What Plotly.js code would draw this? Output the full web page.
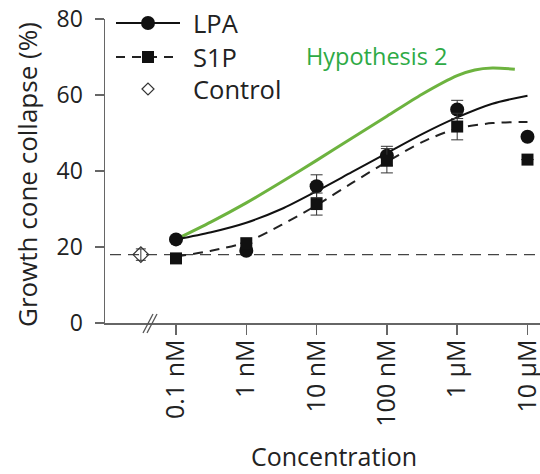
<!DOCTYPE html>
<html>
<head>
<meta charset="utf-8">
<script src="https://cdn.plot.ly/plotly-3.0.1.min.js"></script>
<style>html,body{margin:0;padding:0;background:#fff;}#chart{width:540px;height:474px;}</style>
</head>
<body>
<div id="chart"></div>
<script>
// ---- data (x = log10 of concentration in nM) ----
const concLabels = ['0.1 nM', '1 nM', '10 nM', '100 nM', '1 µM', '10 µM'];
const logConc = [-1, 0, 1, 2, 3, 4];

const lpaMean = [22, 19, 36, 44, 56.2, 49];
const lpaErr  = [0, 0, 3, 2.5, 2.4, 0];
const s1pMean = [17, 21, 31.3, 42.7, 51.7, 43];
const s1pErr  = [0, 0, 2.9, 3.2, 3.5, 0];

const controlX = [-1.5];
const controlMean = [18];
const controlErr = [1.5];

// fitted curves
const fitX = [-1, -0.5, 0, 0.5, 1, 1.5, 2, 2.5, 3, 3.5, 4];
const lpaFit = [22, 23.9, 26.4, 30.0, 34.7, 39.7, 44.7, 49.7, 54.1, 57.7, 59.8];
const s1pFit = [17.5, 19, 21.3, 25.8, 31, 36.8, 42.4, 47.6, 51.2, 52.6, 52.9];
const hypX = [-1, -0.5, 0, 0.5, 1, 1.5, 2, 2.5, 3, 3.25, 3.5, 3.82];
const hypFit = [22, 26.6, 31.6, 37.1, 42.8, 48.6, 54.4, 60.2, 65.1, 66.6, 67.1, 66.8];

const yTicks = [0, 20, 40, 60, 80];

const FONT = '"Open Sans", "Noto Sans", sans-serif';
const TXT = '#222';
const AX = '#666';
const GREEN_LINE = '#6db33f';
const GREEN_TXT = '#2eaa45';

const traces = [
  {x: hypX, y: hypFit, mode: 'lines', line: {color: GREEN_LINE, width: 3, shape: 'spline', smoothing: 0.8}, hoverinfo: 'skip'},
  {x: fitX, y: lpaFit, mode: 'lines', line: {color: '#111', width: 2, shape: 'spline', smoothing: 0.8}},
  {x: fitX, y: s1pFit, mode: 'lines', line: {color: '#222', width: 2, shape: 'spline', smoothing: 0.8, dash: '10px,7px'}},
  {x: controlX, y: controlMean, mode: 'markers',
   marker: {symbol: 'diamond-open', size: 12, color: '#333', line: {width: 1.2}},
   error_y: {type: 'data', array: controlErr, color: '#333', thickness: 1, width: 5}},
  {x: logConc, y: lpaMean, mode: 'markers',
   marker: {symbol: 'circle', size: 14, color: '#111'},
   error_y: {type: 'data', array: lpaErr, color: '#333', thickness: 1, width: 6}},
  {x: logConc, y: s1pMean, mode: 'markers',
   marker: {symbol: 'square', size: 12, color: '#111'},
   error_y: {type: 'data', array: s1pErr, color: '#333', thickness: 1, width: 6}}
];

// plot area in pixels: x 105..540, y 19..323
const L = 105, R = 540, T = 19, B = 323;
const px = v => (v - L) / (R - L);
const py = v => (B - v) / (B - T);

const shapes = [
  // control baseline
  {type: 'line', xref: 'paper', yref: 'y', x0: px(110), x1: 1, y0: controlMean[0], y1: controlMean[0],
   line: {color: '#444', width: 1.3, dash: '11px,7px'}, layer: 'below'},
  // axis break marks
  {type: 'line', xref: 'paper', yref: 'paper', x0: px(143), y0: py(333), x1: px(153), y1: py(314), line: {color: '#555', width: 1.3}},
  {type: 'line', xref: 'paper', yref: 'paper', x0: px(147), y0: py(333), x1: px(157), y1: py(314), line: {color: '#555', width: 1.3}},
  // legend samples
  {type: 'line', xref: 'paper', yref: 'paper', x0: px(116), x1: px(180), y0: py(23), y1: py(23), line: {color: '#111', width: 2}},
  {type: 'circle', xref: 'paper', yref: 'paper', xsizemode: 'pixel', ysizemode: 'pixel',
   xanchor: px(148), yanchor: py(23), x0: -7, x1: 7, y0: -7, y1: 7, fillcolor: '#111', line: {width: 0}},
  {type: 'line', xref: 'paper', yref: 'paper', x0: px(116), x1: px(180), y0: py(57), y1: py(57), line: {color: '#222', width: 2, dash: '9px,7px'}},
  {type: 'rect', xref: 'paper', yref: 'paper', xsizemode: 'pixel', ysizemode: 'pixel',
   xanchor: px(148), yanchor: py(57), x0: -6, x1: 6, y0: -6, y1: 6, fillcolor: '#111', line: {width: 0}},
  {type: 'path', xref: 'paper', yref: 'paper', xsizemode: 'pixel', ysizemode: 'pixel',
   xanchor: px(148), yanchor: py(89), path: 'M -6 0 L 0 6 L 6 0 L 0 -6 Z', fillcolor: 'rgba(0,0,0,0)', line: {color: '#333', width: 1.2}}
];

const annotations = [
  {text: 'LPA', xref: 'paper', yref: 'paper', x: px(191), y: py(23), xanchor: 'left', yanchor: 'middle', showarrow: false, font: {size: 25.5, color: TXT, family: FONT}},
  {text: 'S1P', xref: 'paper', yref: 'paper', x: px(191), y: py(57), xanchor: 'left', yanchor: 'middle', showarrow: false, font: {size: 25.5, color: TXT, family: FONT}},
  {text: 'Control', xref: 'paper', yref: 'paper', x: px(191), y: py(89), xanchor: 'left', yanchor: 'middle', showarrow: false, font: {size: 25.5, color: TXT, family: FONT}},
  {text: 'Hypothesis 2', xref: 'paper', yref: 'paper', x: px(376), y: py(56), xanchor: 'center', yanchor: 'middle', showarrow: false, font: {size: 23.5, color: GREEN_TXT, family: FONT}},
  {text: 'Concentration', xref: 'paper', yref: 'paper', x: px(334), y: py(456), xanchor: 'center', yanchor: 'middle', showarrow: false, font: {size: 25, color: TXT, family: FONT}},
  {text: 'Growth cone collapse (%)', xref: 'paper', yref: 'paper', x: px(27), y: py(175), xanchor: 'center', yanchor: 'middle', textangle: -90, showarrow: false, font: {size: 26, color: TXT, family: FONT}}
];

const layout = {
  width: 540, height: 474,
  margin: {l: L, r: 540 - R, t: T, b: 474 - B, pad: 0},
  paper_bgcolor: '#fff', plot_bgcolor: '#fff',
  showlegend: false,
  font: {family: FONT, size: 23, color: TXT},
  xaxis: {
    range: [-2.01, 4.178], showgrid: false, zeroline: false,
    showline: true, linecolor: AX, linewidth: 1.5,
    tickmode: 'array', tickvals: logConc, ticktext: concLabels,
    ticks: 'outside', ticklen: 10, tickwidth: 1.5, tickcolor: AX,
    tickangle: -90, tickfont: {size: 25, color: TXT, family: FONT},
    ticklabeloverflow: 'allow', ticklabelstandoff: -5
  },
  yaxis: {
    range: [0, 80], showgrid: false, zeroline: false,
    showline: true, linecolor: AX, linewidth: 1.5,
    tickmode: 'array', tickvals: yTicks,
    ticks: 'outside', ticklen: 9, tickwidth: 1.5, tickcolor: AX,
    tickfont: {size: 23, color: TXT, family: FONT},
    ticklabelstandoff: 7
  },
  shapes: shapes,
  annotations: annotations
};

Plotly.newPlot('chart', traces, layout, {staticPlot: true, displayModeBar: false});
</script>
</body>
</html>
